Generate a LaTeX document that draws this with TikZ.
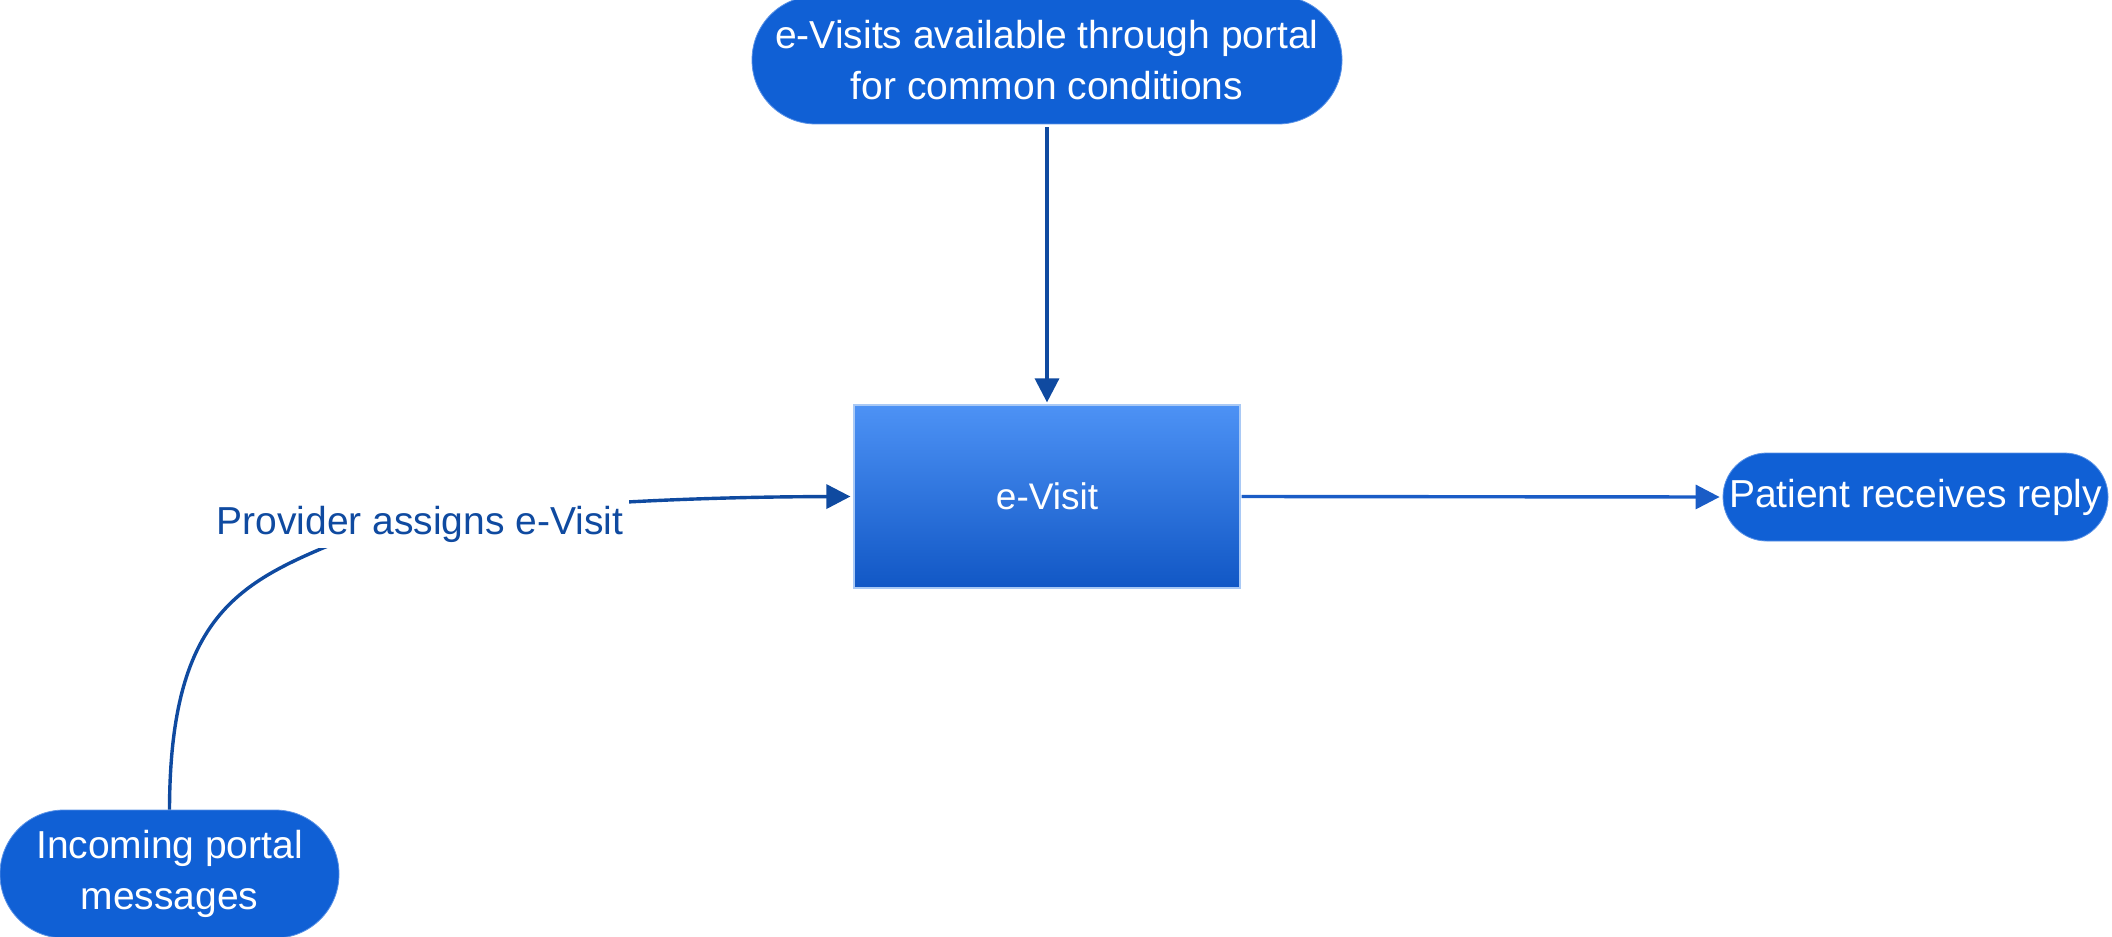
\documentclass[tikz,border=0pt]{standalone}
\usepackage{fontspec}
\setmainfont{Liberation Sans}
\usetikzlibrary{arrows.meta}
\definecolor{nodeblue}{HTML}{1060D5}
\definecolor{nodeedge}{HTML}{5A92E6}
\definecolor{linkblue}{HTML}{0F4AA0}
\definecolor{rightblue}{HTML}{1A5CC6}
\definecolor{boxtop}{HTML}{4D92F5}
\definecolor{boxbot}{HTML}{1157C5}
\definecolor{boxedge}{HTML}{A9C9F5}
\begin{document}
\begin{tikzpicture}[x=0.5pt,y=-0.5pt,
  pill/.style={fill=nodeblue, draw=nodeedge, line width=0.4pt, text=white,
    font=\fontsize{19.5}{25.5}\selectfont, align=center, inner sep=0pt},
  evbox/.style={top color=boxtop, bottom color=boxbot, draw=boxedge, line width=0.6pt,
    text=white, font=\fontsize{18.5}{22}\selectfont, inner sep=0pt},
  conn/.style={draw=linkblue, line width=1.7pt, -{Triangle[length=12pt,width=12pt]}},
  lbl/.style={text=linkblue, font=\fontsize{19.5}{25.5}\selectfont, fill=white, inner sep=3pt}
  ]
\useasboundingbox (0,0) rectangle (2112,936);

\node[pill, minimum width=295pt, minimum height=64pt, rounded corners=31.9pt] (top) at (1047,60)
  {e-Visits available through portal\\for common conditions};
\node[pill, minimum width=169.5pt, minimum height=64pt, rounded corners=31.9pt] (inc) at (169.5,874)
  {Incoming portal\\messages};
\node[pill, minimum width=192.5pt, minimum height=44pt, rounded corners=21.9pt] (pat) at (1915.5,497)
  {Patient receives reply};
\node[evbox, minimum width=193pt, minimum height=91.5pt] (ev) at (1047,496.5) {e-Visit};

\draw[conn, shorten <=1.5pt, shorten >=1pt] (top.south) -- (ev.north);
\draw[conn, draw=rightblue, shorten <=0.5pt, shorten >=1.5pt] (ev.east) -- (pat.west);
\draw[conn, shorten >=1.5pt] (inc.north) .. controls (170,627) and (231,587) .. (323,548)
  .. controls (415,509) and (650,497) .. (ev.west);
\node[lbl, anchor=base] (prov) at (420,534) {Provider assigns e-Visit};
\end{tikzpicture}
\end{document}
